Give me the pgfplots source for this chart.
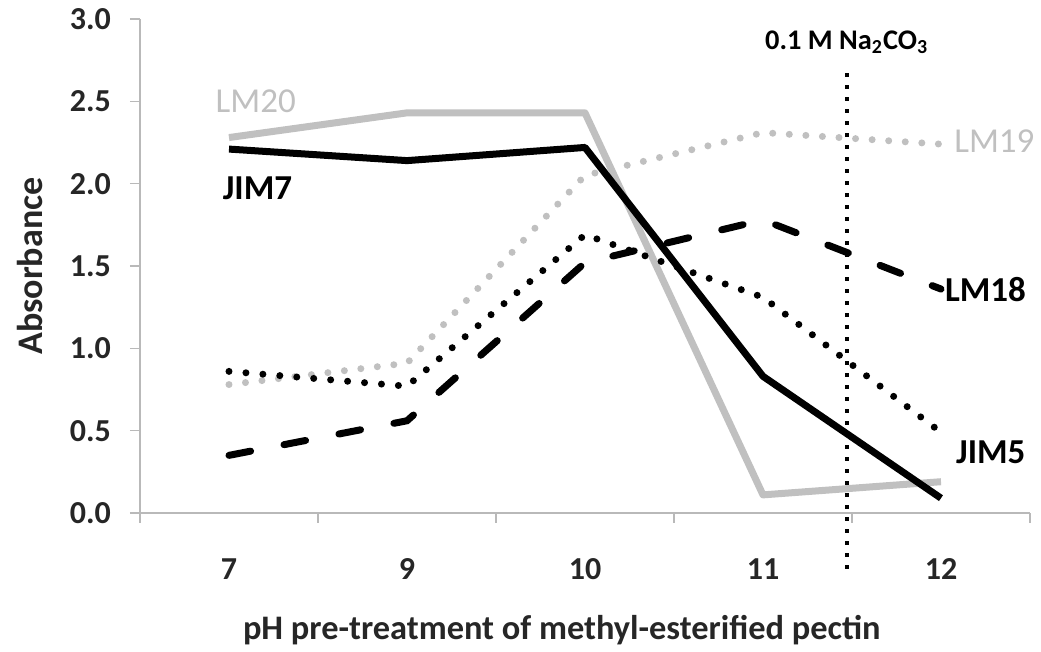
\documentclass[border=0pt]{standalone}
\usepackage{pgfplots}
\pgfplotsset{compat=1.18}
\usepackage{fontspec}
\setmainfont{Carlito}
\definecolor{lgray}{RGB}{192,192,192}
\definecolor{axgray}{RGB}{185,185,185}
\begin{document}
\begin{tikzpicture}
\begin{axis}[
  scale only axis, width=445pt, height=247pt,
  at={(0,0)}, anchor=south west,
  xmin=-0.5, xmax=4.5, ymin=0, ymax=3,
  clip=false,
  axis x line*=bottom, axis y line*=left,
  axis line style={draw=axgray, line width=0.8pt, -},
  xtick={0,1,2,3,4}, xticklabels={7,9,10,11,12},
  ytick={0,0.5,...,3},
  minor xtick={-0.5,0.5,1.5,2.5,3.5,4.5},
  minor ytick={0,0.5,...,3},
  major tick length=0pt, minor tick length=5pt,
  tick align=outside,
  every minor tick/.style={draw=axgray, line width=0.8pt},
  /pgf/number format/assume math mode=true,
  yticklabel style={/pgf/number format/fixed, /pgf/number format/fixed zerofill, /pgf/number format/precision=1},
  ticklabel style={font=\bfseries\fontsize{16}{17}\selectfont, text=black!85},
  xticklabel style={anchor=center, yshift=-28pt},
  yticklabel style={anchor=east, xshift=-11pt},
  xlabel={pH pre-treatment of methyl-esterified pectin},
  xlabel style={at={(axis description cs:0.474,-0.237)}, anchor=center, font=\bfseries\fontsize{17.2}{18}\selectfont, text=black!85},
  ylabel={Absorbance},
  ylabel style={at={(axis description cs:-0.124,0.5)}, anchor=center, font=\bfseries\fontsize{18}{19}\selectfont, text=black!85},
]
% LM20
\addplot[lgray, line width=3.5pt, line join=round] coordinates {(0,2.28) (1,2.43) (2,2.43) (3,0.11) (4,0.19)};
% JIM7
\addplot[black, line width=3.5pt, line join=round] coordinates {(0,2.21) (1,2.14) (2,2.22) (3,0.83) (4,0.09)};
% LM19
\addplot[lgray, line width=3.5pt, line cap=round, dash pattern=on 0pt off 8.3pt] coordinates {(0,0.78) (1,0.91) (2,2.05) (3,2.31) (4,2.24)};
% JIM5
\addplot[black, line width=3.5pt, line cap=round, dash pattern=on 0pt off 8.5pt] coordinates {(0,0.86) (1,0.77) (2,1.69) (3,1.31) (4,0.49)};
% LM18
\addplot[black, line width=3.5pt, line cap=round, dash pattern=on 11pt off 17pt] coordinates {(0,0.35) (1,0.56) (2,1.52) (3,1.78) (4,1.36)};
% Na2CO3 line
\addplot[black, line width=2pt, dash pattern=on 2pt off 4pt] coordinates {(3.47,2.67) (3.47,-0.35)};
\node[text=lgray, font=\fontsize{17.5}{18}\selectfont] at (axis cs:0.15,2.50) {LM20};
\node[text=black, font=\bfseries\fontsize{17.5}{18}\selectfont] at (axis cs:0.16,1.97) {JIM7};
\node[text=lgray, font=\fontsize{17.5}{18}\selectfont] at (axis cs:4.30,2.26) {LM19};
\node[text=black, font=\bfseries\fontsize{17.5}{18}\selectfont] at (axis cs:4.25,1.36) {LM18};
\node[text=black, font=\bfseries\fontsize{17.5}{18}\selectfont] at (axis cs:4.28,0.37) {JIM5};
\node[text=black, font=\bfseries\fontsize{14.2}{15}\selectfont] at (axis cs:3.47,2.86) {0.1 M Na\textsubscript{2}CO\textsubscript{3}};
\end{axis}
\pgfresetboundingbox
\path (-70pt,-69.5pt) rectangle (450.5pt,256.5pt);
\end{tikzpicture}
\end{document}
